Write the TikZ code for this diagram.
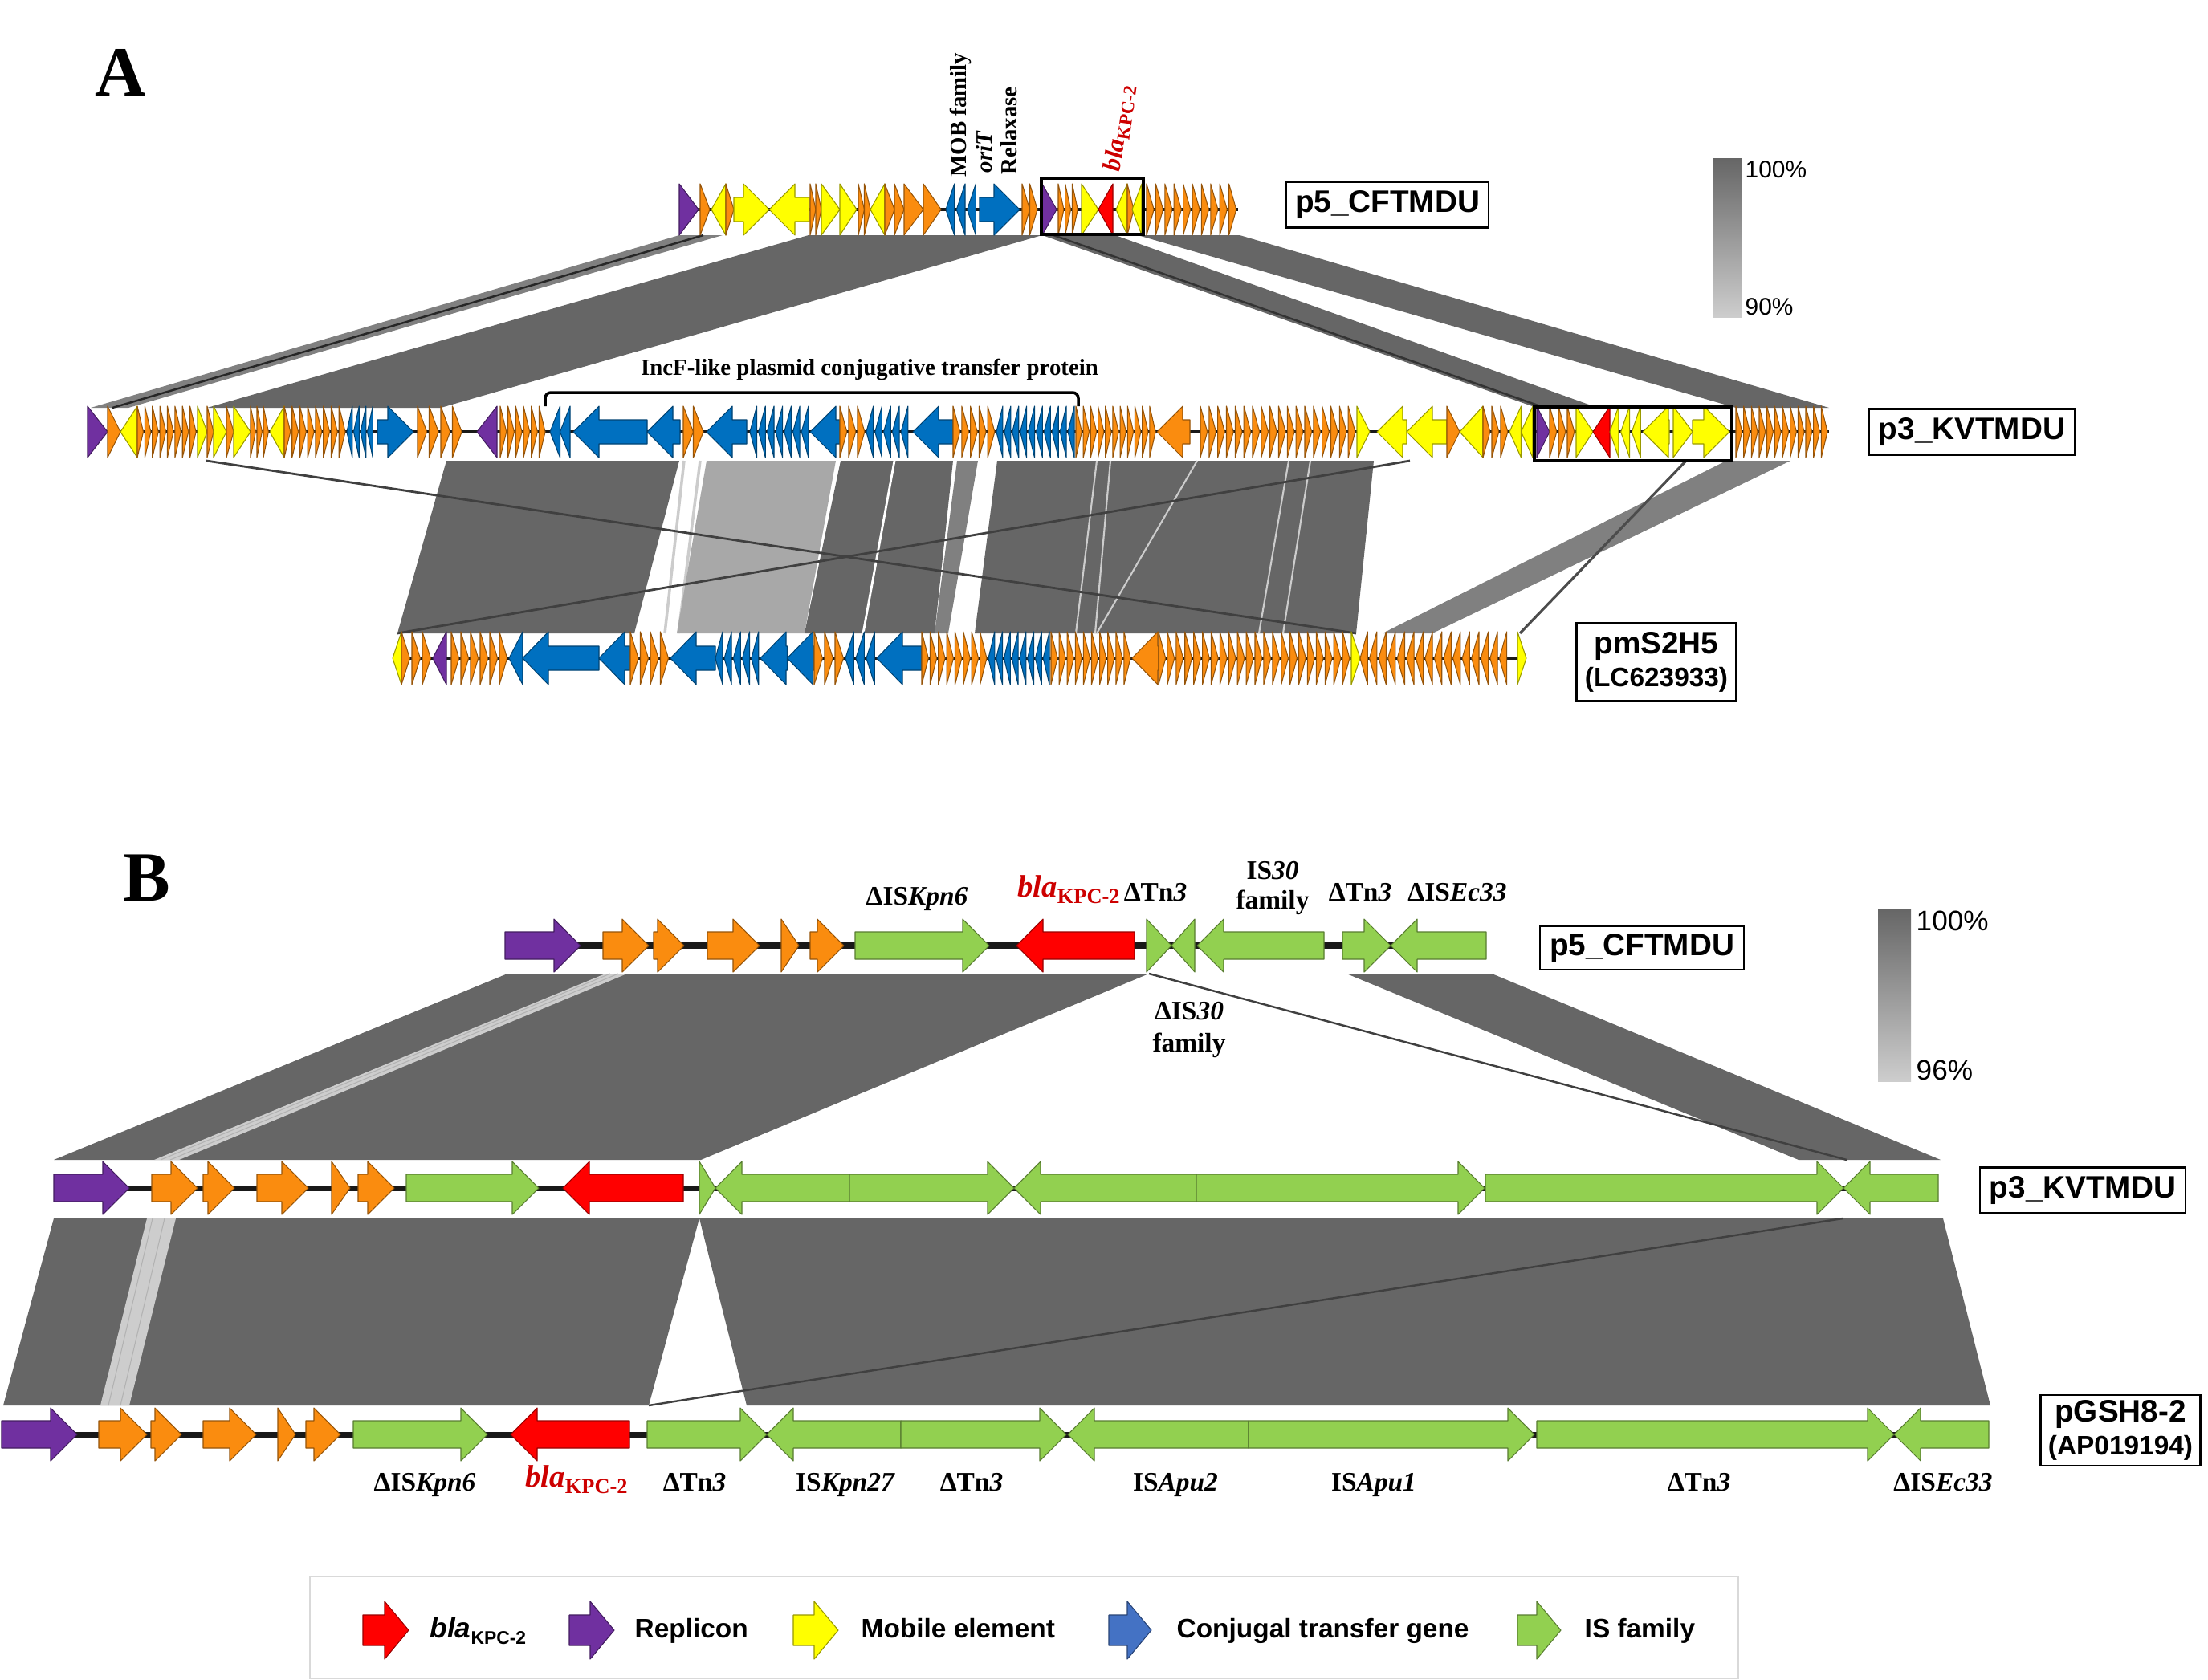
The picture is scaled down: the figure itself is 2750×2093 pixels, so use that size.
\documentclass[tikz,border=0pt]{standalone}
\usepackage{fontspec}
\setmainfont{Liberation Serif}
\setsansfont{Liberation Sans}
\definecolor{cO}{RGB}{250,140,15}
\definecolor{cY}{RGB}{255,255,0}
\definecolor{cB}{RGB}{0,112,192}
\definecolor{cP}{RGB}{112,48,160}
\definecolor{cR}{RGB}{255,0,0}
\definecolor{cG}{RGB}{146,208,80}
\definecolor{cLB}{RGB}{68,114,196}
\definecolor{rib}{RGB}{102,102,102}
\definecolor{ribmid}{RGB}{128,128,128}
\definecolor{riblight}{RGB}{168,168,168}
\definecolor{ribpale}{RGB}{205,205,205}
\definecolor{blared}{RGB}{205,0,0}
\definecolor{bbone}{RGB}{25,25,25}
\newcommand\gnH{32}
\newcommand\gnh{15}
\newcommand\gnL{32}
\newcommand\gnarrow[5]{%
  \pgfmathsetmacro\gLen{min(\gnL,#3-#2)}%
  \if#4r%
    \pgfmathsetmacro\gm{#3-\gLen}%
    \filldraw[fill=#5,draw=#5!60!black,line width=0.3pt,line join=round]
      (#2,#1-\gnh) -- (\gm,#1-\gnh) -- (\gm,#1-\gnH) -- (#3,#1) -- (\gm,#1+\gnH) -- (\gm,#1+\gnh) -- (#2,#1+\gnh) -- cycle;%
  \else
    \pgfmathsetmacro\gm{#2+\gLen}%
    \filldraw[fill=#5,draw=#5!60!black,line width=0.3pt,line join=round]
      (#3,#1-\gnh) -- (\gm,#1-\gnh) -- (\gm,#1-\gnH) -- (#2,#1) -- (\gm,#1+\gnH) -- (\gm,#1+\gnh) -- (#3,#1+\gnh) -- cycle;%
  \fi}
\newcommand\generun[6]{%
  \pgfmathsetmacro\rw{(#3-#2)/#4}%
  \pgfmathsetmacro\rf{#4>2 ? 0.8 : 1}%
  \foreach \k in {1,...,#4}{%
    \pgfmathsetmacro\ra{#2+(\k-1)*\rw}%
    \pgfmathsetmacro\rb{\ra+\rf*\rw}%
    \gnarrow{#1}{\ra}{\rb}{#5}{#6}}}
\newcommand\blaA{\textcolor{blared}{\fontsize{9}{10}\selectfont\textit{bla}\raisebox{-0.4ex}{\fontsize{6.5}{7}\selectfont KPC-2}}}
\newcommand\blaB{\textcolor{blared}{\fontsize{11}{12}\selectfont\textit{bla}\raisebox{-0.45ex}{\fontsize{7.5}{8}\selectfont KPC-2}}}
\newcommand\blaL{{\fontsize{10}{11}\selectfont\textit{bla}\raisebox{-0.45ex}{\fontsize{6.5}{7}\selectfont KPC-2}}}
\tikzset{
  ribbon/.style={fill=rib, draw=none},
  boxlab/.style={draw=black, line width=0.7pt, fill=white, font=\sffamily\bfseries\fontsize{11}{12.5}\selectfont, inner sep=0pt, align=center},
  blab/.style={font=\bfseries\fontsize{9.5}{11}\selectfont, inner sep=0pt},
  rlab/.style={font=\bfseries\fontsize{8.2}{9}\selectfont, inner sep=0pt},
  leglab/.style={font=\sffamily\bfseries\fontsize{9.5}{11}\selectfont, inner sep=0pt},
  pct/.style={font=\sffamily\fontsize{10}{11}\selectfont, inner sep=0pt},
  bigl/.style={font=\bfseries\fontsize{25}{28}\selectfont, inner sep=0pt},
  bbA/.style={draw=bbone, line width=1.4pt},
  bbB/.style={draw=bbone, line width=2pt},
  palel/.style={draw=black!20, line width=0.5pt},
  hibox/.style={draw=black, line width=1pt},
}
\begin{document}
\begin{tikzpicture}[x=0.01cm,y=-0.01cm]
\useasboundingbox (0,0) rectangle (2750,2093);
\fill[white] (0,0) rectangle (2750,2093);

% ================= SECTION A =================
% ribbons p5 -> p3
\fill[ribmid] (846,293) -- (900,293) -- (160,508) -- (113,508) -- cycle;
\draw[black!85, line width=0.7pt] (876,293) -- (140,508);
\fill[ribbon] (1007,293) -- (1298,293) -- (549,508) -- (258,508) -- cycle;
\fill[ribbon] (1298,293) -- (1389,293) -- (1990,508) -- (1914,508) -- cycle;
\draw[black!80, line width=0.7pt] (1312,293) -- (1924,508);
\fill[ribbon] (1417,293) -- (1544,293) -- (2278,508) -- (2162,508) -- cycle;
% ribbons p3 -> pmS2H5
\fill[ribbon] (556,574) -- (846,574) -- (790,789) -- (495,789) -- cycle;
\draw[palel, line width=1pt] (852,574) -- (828,789);
\draw[palel, line width=1pt] (872,574) -- (845,789);
\fill[riblight] (880,574) -- (1041,574) -- (1002,789) -- (843,789) -- cycle;
\fill[ribbon] (1047,574) -- (1187,574) -- (1164,789) -- (1002,789) -- cycle;
\draw[white, line width=0.8pt] (1114,574) -- (1075,789);
\fill[ribmid] (1192,574) -- (1218,574) -- (1181,789) -- (1164,789) -- cycle;
\fill[ribbon] (1242,574) -- (1711,574) -- (1689,789) -- (1214,789) -- cycle;
\draw[palel, line width=0.6pt] (1366,574) -- (1340,789);
\draw[palel, line width=0.6pt] (1383,574) -- (1364,789);
\draw[palel, line width=0.6pt] (1491,574) -- (1366,789);
\draw[palel, line width=0.6pt] (1605,574) -- (1568,789);
\draw[palel, line width=0.6pt] (1632,574) -- (1598,789);
\draw[black!75, line width=0.8pt] (257,574) -- (1689,789);
\draw[black!75, line width=0.8pt] (495,789) -- (1756,574);
\fill[ribmid] (2150,574) -- (2230,574) -- (1784,789) -- (1722,789) -- cycle;
\draw[black!70, line width=0.9pt] (2100,574) -- (1893,789);

% backbones A
\draw[bbA] (846,261) -- (1542,261);
\draw[bbA] (109,538) -- (2278,538);
\draw[bbA] (489,820) -- (1901,820);

% genes A p5
\foreach \xa/\xb/\xn/\xd/\xc in {846/870/1/r/cP, 872/884/1/r/cO, 886/904/1/l/cY, 904/914/1/r/cO,
  914/958/1/r/cY, 958/1008/1/l/cY, 1009/1023/2/r/cO, 1023/1046/1/r/cY, 1046/1067/1/r/cY,
  1069/1084/2/r/cO, 1084/1102/1/l/cY, 1102/1126/2/r/cO, 1126/1150/1/r/cO, 1150/1172/1/r/cO,
  1178/1218/3/l/cB, 1220/1270/1/r/cB, 1273/1292/2/r/cO, 1298/1316/1/r/cP, 1318/1344/3/r/cO,
  1347/1368/1/r/cY, 1368/1386/1/l/cR, 1390/1404/1/l/cY, 1404/1412/1/r/cO, 1410/1422/1/l/cY,
  1428/1542/10/r/cO}
  {\generun{261}{\xa}{\xb}{\xn}{\xd}{\xc}}

% genes A p3
\foreach \xa/\xb/\xn/\xd/\xc in {109/134/1/r/cP, 134/150/1/r/cO, 150/171/1/l/cY, 171/246/8/r/cO,
  246/258/1/r/cY, 258/266/1/r/cO, 266/282/1/r/cY, 282/291/1/r/cO, 291/312/1/r/cY, 312/336/3/r/cO,
  336/354/1/l/cY, 354/432/8/r/cO, 432/466/4/l/cB, 470/515/1/r/cB, 520/578/4/r/cO, 594/619/1/l/cP,
  623/681/6/r/cO, 685/710/2/l/cB, 714/806/1/l/cB, 806/847/1/l/cB, 851/876/2/r/cO, 880/930/1/l/cB,
  934/1009/7/l/cB, 1009/1046/1/l/cB, 1046/1079/3/r/cO, 1079/1133/5/l/cB, 1137/1187/1/l/cB,
  1187/1241/5/r/cO, 1241/1340/10/l/cB, 1340/1441/11/r/cO, 1441/1482/1/l/cO, 1495/1690/18/r/cO,
  1690/1706/1/r/cY, 1715/1752/1/l/cY, 1752/1802/1/l/cY, 1802/1818/1/r/cO, 1818/1847/1/l/cY,
  1847/1880/3/r/cO, 1880/1909/2/l/cY, 1914/1930/1/r/cP, 1930/1963/3/r/cO, 1963/1984/1/r/cY,
  1984/2005/1/l/cR, 2005/2046/3/l/cY, 2046/2079/1/l/cY, 2084/2108/1/r/cY, 2108/2154/1/r/cY,
  2162/2278/12/r/cO}
  {\generun{538}{\xa}{\xb}{\xn}{\xd}{\xc}}

% genes A pmS2H5
\renewcommand\gnH{33}
\foreach \xa/\xb/\xn/\xd/\xc in {489/500/1/l/cY, 500/539/3/r/cO, 539/556/1/l/cP, 562/634/6/r/cO,
  634/651/1/l/cB, 651/746/1/l/cB, 746/785/1/l/cB, 785/835/4/r/cO, 835/891/1/l/cB, 891/947/5/l/cB,
  947/1014/2/l/cB, 1014/1053/3/r/cO, 1053/1092/3/l/cB, 1092/1148/1/l/cB, 1148/1231/8/r/cO,
  1231/1309/8/l/cB, 1309/1410/10/r/cO, 1410/1443/1/l/cO, 1443/1683/22/r/cO, 1683/1694/1/r/cY,
  1694/1879/16/l/cO, 1890/1901/1/r/cY}
  {\generun{820}{\xa}{\xb}{\xn}{\xd}{\xc}}

% highlight boxes A
\draw[hibox] (1297,222) rectangle (1424,292);
\draw[hibox] (1911,507) rectangle (2157,574);

% bracket
\draw[line width=1pt, rounded corners=2pt] (679,506) -- (679,489) -- (1343,489) -- (1343,506);
\node[rlab] (incf) at (1083,461) {IncF-like plasmid conjugative transfer protein};

% labels A
\node[bigl] (labA) at (150,90) {A};
\node[rlab, rotate=90, anchor=west] (mob) at (1196,221) {MOB family};
\node[rlab, rotate=90, anchor=west] (orit) at (1226,216) {\textit{oriT}};
\node[rlab, rotate=90, anchor=west] (relax) at (1257,218) {Relaxase};
\node[rlab, rotate=82, anchor=west] (blaAlab) at (1387,214) {\blaA};

\node[boxlab, minimum width=2.52cm, minimum height=0.57cm] (p5A) at (1728,255) {p5\_CFTMDU};
\node[boxlab, minimum width=2.57cm, minimum height=0.57cm] (p3A) at (2456,538) {p3\_KVTMDU};
\node[boxlab, minimum width=1.99cm, minimum height=0.97cm] (pmA) at (2063,825) {pmS2H5\\[-1pt]{\fontsize{9.5}{11}\selectfont (LC623933)}};

% scale bar A
\shade[top color=rib, bottom color=ribpale] (2134,197) rectangle (2169,395);
\node[pct, font=\sffamily\fontsize{8.5}{10}\selectfont, anchor=west] (hiA) at (2173,211) {100\%};
\node[pct, font=\sffamily\fontsize{8.5}{10}\selectfont, anchor=west] (loA) at (2173,382) {90\%};

% ================= SECTION B =================
% ribbons p5 -> p3
\fill[ribbon] (632,1213) -- (1431,1213) -- (873,1445) -- (67,1445) -- cycle;
\fill[ribpale] (754,1213) -- (781,1213) -- (223,1445) -- (192,1445) -- cycle;
\draw[black!30, line width=0.3pt] (760,1213) -- (200,1445);
\draw[black!30, line width=0.3pt] (770,1213) -- (212,1445);
\fill[ribbon] (1677,1213) -- (1858,1213) -- (2417,1445) -- (2240,1445) -- cycle;
\draw[black!75, line width=0.7pt] (1431,1213) -- (2300,1445);
% ribbons p3 -> pGSH8-2
\fill[ribbon] (67,1518) -- (871,1518) -- (808,1751) -- (4,1751) -- cycle;
\fill[ribbon] (871,1518) -- (2420,1518) -- (2479,1751) -- (930,1751) -- cycle;
\fill[ribpale] (183,1518) -- (219,1518) -- (161,1751) -- (125,1751) -- cycle;
\draw[black!30, line width=0.3pt] (190,1518) -- (135,1751);
\draw[black!30, line width=0.3pt] (205,1518) -- (150,1751);
\draw[black!75, line width=0.7pt] (808,1751) -- (2295,1518);

% backbones B
\draw[bbB] (692,1178) -- (1851,1178);
\draw[bbB] (128,1480) -- (2414,1480);
\draw[bbB] (61,1787) -- (2477,1787);

% genes B
\renewcommand\gnH{33}\renewcommand\gnh{17}\renewcommand\gnL{33}
\foreach \xa/\xb/\xd/\xc in {629/723/r/cP, 751/808/r/cO, 814/852/r/cO, 881/946/r/cO, 973/995/r/cO,
  1009/1051/r/cO, 1065/1232/r/cG, 1266/1413/l/cR, 1428/1459/r/cG, 1459/1488/l/cG, 1491/1649/l/cG,
  1672/1732/r/cG, 1732/1851/l/cG}
  {\gnarrow{1178}{\xa}{\xb}{\xd}{\xc}}
\foreach \xa/\xb/\xd/\xc in {67/161/r/cP, 189/246/r/cO, 253/292/r/cO, 320/384/r/cO, 413/436/r/cO,
  446/491/r/cO, 506/671/r/cG, 701/851/l/cR, 871/891/r/cG, 891/1058/l/cG, 1058/1263/r/cG,
  1263/1490/l/cG, 1490/1849/r/cG, 1850/2296/r/cG, 2296/2414/l/cG}
  {\gnarrow{1480}{\xa}{\xb}{\xd}{\xc}}
\foreach \xa/\xb/\xd/\xc in {2/96/r/cP, 123/183/r/cO, 188/226/r/cO, 253/319/r/cO, 346/368/r/cO,
  381/424/r/cO, 440/607/r/cG, 636/784/l/cR, 806/955/r/cG, 955/1122/l/cG, 1122/1328/r/cG,
  1330/1555/l/cG, 1555/1911/r/cG, 1914/2359/r/cG, 2359/2477/l/cG}
  {\gnarrow{1787}{\xa}{\xb}{\xd}{\xc}}

% labels B
\node[bigl] (labB) at (183,1094) {B};
\node[blab, anchor=base] (b1) at (1142,1127) {ΔIS\textit{Kpn6}};
\node[blab, anchor=base] (b2) at (1331,1117) {\blaB};
\node[blab, anchor=base] (b3) at (1439,1122) {ΔTn\textit{3}};
\node[blab, anchor=base] (b4) at (1585,1095) {IS\textit{30}};
\node[blab, anchor=base] (b5) at (1585,1132) {family};
\node[blab, anchor=base] (b6) at (1694,1122) {ΔTn\textit{3}};
\node[blab, anchor=base] (b7) at (1815,1122) {ΔIS\textit{Ec33}};
\node[blab, anchor=base] (b8) at (1481,1270) {ΔIS\textit{30}};
\node[blab, anchor=base] (b9) at (1481,1310) {family};

\node[blab, anchor=base] (c1) at (529,1857) {ΔIS\textit{Kpn6}};
\node[blab, anchor=base] (c2) at (718,1852) {\blaB};
\node[blab, anchor=base] (c3) at (865,1857) {ΔTn\textit{3}};
\node[blab, anchor=base] (c4) at (1053,1857) {IS\textit{Kpn27}};
\node[blab, anchor=base] (c5) at (1210,1857) {ΔTn\textit{3}};
\node[blab, anchor=base] (c6) at (1464,1857) {IS\textit{Apu2}};
\node[blab, anchor=base] (c7) at (1711,1857) {IS\textit{Apu1}};
\node[blab, anchor=base] (c8) at (2116,1857) {ΔTn\textit{3}};
\node[blab, anchor=base] (c9) at (2420,1857) {ΔIS\textit{Ec33}};

\node[boxlab, minimum width=2.54cm, minimum height=0.54cm] (p5B) at (2045,1181) {p5\_CFTMDU};
\node[boxlab, minimum width=2.56cm, minimum height=0.57cm] (p3B) at (2594,1483) {p3\_KVTMDU};
\node[boxlab, minimum width=1.99cm, minimum height=0.88cm] (pgB) at (2641,1782) {pGSH8-2\\[-1pt]{\fontsize{9.5}{11}\selectfont (AP019194)}};

% scale bar B
\shade[top color=rib, bottom color=ribpale] (2339,1132) rectangle (2380,1347);
\node[pct, anchor=west] (hiB) at (2386,1147) {100\%};
\node[pct, anchor=west] (loB) at (2386,1333) {96\%};

% ================= LEGEND =================
\draw[draw=black!15, line width=0.6pt] (386,1964) rectangle (2165,2091);
\renewcommand\gnH{36}\renewcommand\gnh{19}\renewcommand\gnL{30}
\gnarrow{2031}{452}{509}{r}{cR}
\gnarrow{2031}{709}{765}{r}{cP}
\gnarrow{2031}{988}{1044}{r}{cY}
\gnarrow{2031}{1381}{1434}{r}{cLB}
\gnarrow{2031}{1890}{1944}{r}{cG}
\node[leglab, anchor=base west] (lg1) at (535,2040) {\blaL};
\node[leglab, anchor=base west] (lg2) at (790,2040) {Replicon};
\node[leglab, anchor=base west] (lg3) at (1072,2040) {Mobile element};
\node[leglab, anchor=base west] (lg4) at (1465,2040) {Conjugal transfer gene};
\node[leglab, anchor=base west] (lg5) at (1973,2040) {IS family};
\end{tikzpicture}
\end{document}
